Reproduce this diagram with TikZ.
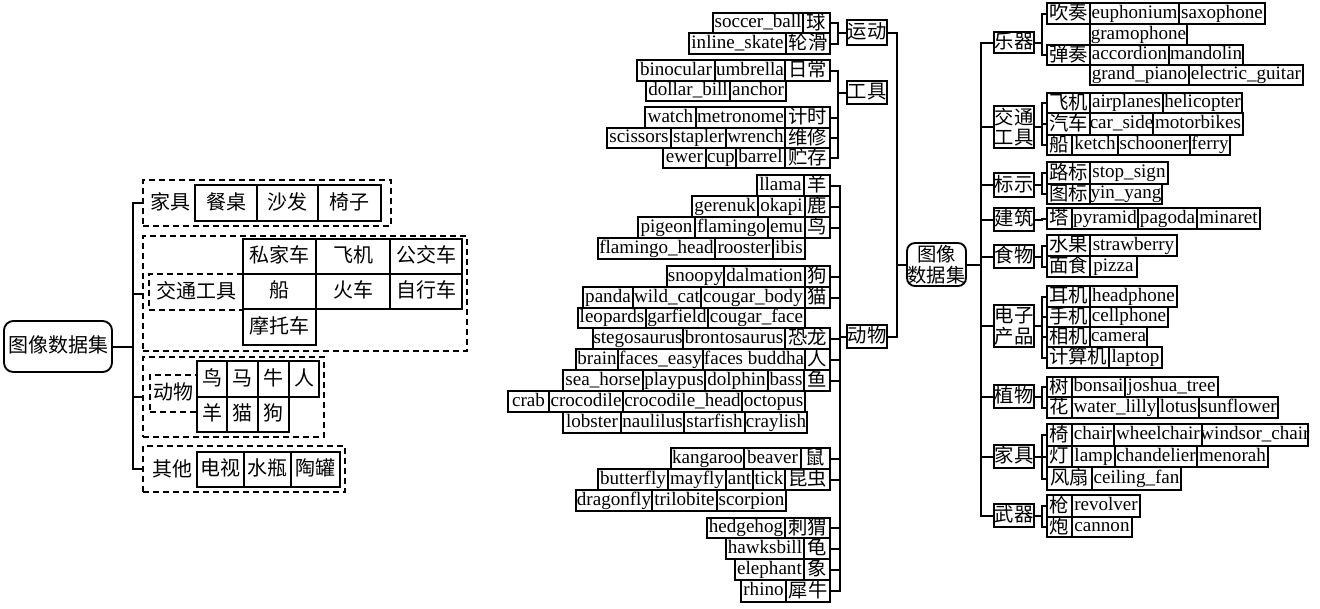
\documentclass[tikz,border=0pt]{standalone}
\usepackage{fontspec}
\setmainfont{Liberation Serif}
\newfontfamily\cjk{Noto Sans CJK SC}
\tikzset{
  bxbase/.style={draw, line width=1.4pt, inner sep=0pt, outer sep=0pt},
  lbox/.style={bxbase, font=\fontsize{14.3}{16}\selectfont, text height=10pt, text depth=3pt},
  cbox/.style={bxbase, font=\cjk\fontsize{14.5}{16}\selectfont, text height=11pt, text depth=2pt},
  lcbox/.style={bxbase, font=\cjk\fontsize{15}{16}\selectfont, text height=11.5pt, text depth=2pt},
  mbox/.style={bxbase, font=\cjk\fontsize{14.5}{15.5}\selectfont, align=center},
  rbox/.style={lcbox, rounded corners=7pt},
  grp/.style={draw, line width=1.4pt, dash pattern=on 4.5pt off 3pt, inner sep=0pt, outer sep=0pt},
  grplab/.style={grp, font=\cjk\fontsize{15}{16}\selectfont, text height=11.5pt, text depth=2pt},
  plainlab/.style={inner sep=0pt, font=\cjk\fontsize{15}{16}\selectfont},
  conn/.style={line width=1.5pt}
}
\newcommand\bx[7][lbox]{\node[#1,minimum width={(#4-#3)*0.75pt},minimum height={(#6-#5)*0.75pt}] (#2) at ({(#3+#4)/2},{(#5+#6)/2}) {\makebox[0pt]{#7}};}
\newcommand\mb[6]{\node[mbox,minimum width={(#3-#2)*0.75pt},minimum height={(#5-#4)*0.75pt}] (#1) at ({(#2+#3)/2},{(#4+#5)/2}) {#6};}
\begin{document}
\begin{tikzpicture}[x=0.75pt,y=-0.75pt]
\useasboundingbox (0,0) rectangle (1320,608);
% ---------------- left diagram ----------------
\bx[rbox]{L0}{4}{112}{321}{372}{图像数据集}
\bx[grp]{g1}{143}{391}{180}{226}{}
\bx[grp]{g2}{143}{467}{236}{351}{}
\bx[grp]{g3}{143}{324}{357}{437}{}
\bx[grp]{g4}{143}{345}{446}{492}{}
\node[plainlab] (lt1) at (170,202) {家具};
\node[plainlab] (lt4) at (172,469) {其他};
\bx[grplab]{l2}{149}{243}{274}{310}{交通工具}
\bx[grplab]{l3}{150}{197}{375}{412}{动物}
\bx[lcbox]{c11}{195}{257}{185}{221}{餐桌}
\bx[lcbox]{c12}{257}{318}{185}{221}{沙发}
\bx[lcbox]{c13}{318}{381}{185}{221}{椅子}
\bx[lcbox]{c21}{243}{316}{239}{274}{私家车}
\bx[lcbox]{c22}{316}{390}{239}{274}{飞机}
\bx[lcbox]{c23}{390}{462}{239}{274}{公交车}
\bx[lcbox]{c24}{243}{316}{274}{309}{船}
\bx[lcbox]{c25}{316}{390}{274}{309}{火车}
\bx[lcbox]{c26}{390}{462}{274}{309}{自行车}
\bx[lcbox]{c27}{243}{316}{309}{345}{摩托车}
\bx[lcbox]{c31}{197}{227}{361}{397}{鸟}
\bx[lcbox]{c32}{227}{258}{361}{397}{马}
\bx[lcbox]{c33}{258}{289}{361}{397}{牛}
\bx[lcbox]{c34}{289}{319}{361}{397}{人}
\bx[lcbox]{c35}{197}{227}{397}{432}{羊}
\bx[lcbox]{c36}{227}{258}{397}{432}{猫}
\bx[lcbox]{c37}{258}{289}{397}{432}{狗}
\bx[lcbox]{c41}{197}{244}{452}{487}{电视}
\bx[lcbox]{c42}{244}{291}{452}{487}{水瓶}
\bx[lcbox]{c43}{291}{340}{452}{487}{陶罐}
\foreach \g in {g1,g2,g3,g4} \draw[conn] (L0.east) -- ++(21,0) |- (\g.west);
% ---------------- middle ----------------
\bx[cbox]{yd}{847}{887}{20}{45}{运动}
\bx[cbox]{gj}{847}{887}{81}{104}{工具}
\bx[cbox]{dw}{847}{887}{325}{348}{动物}
\node[mbox,rounded corners=6pt,minimum width={59*0.75pt},minimum height={43*0.75pt}] (R) at (936.5,264.5) {图像\\数据集};
\bx[cbox]{s1}{803}{830}{13}{33}{球}
\bx{s1a}{713}{803}{13}{33}{soccer\_ball}
\bx[cbox]{s2}{786}{830}{33}{54}{轮滑}
\bx{s2a}{689}{786}{33}{54}{inline\_skate}
\bx[cbox]{t1}{785}{830}{60}{81}{日常}
\bx{t1a}{715}{785}{60}{81}{umbrella}
\bx{t1b}{637}{715}{60}{81}{binocular}
\bx{t2a}{730}{786}{81}{101}{anchor}
\bx{t2b}{646}{730}{81}{101}{dollar\_bill}
\bx[cbox]{t3}{785}{830}{107}{128}{计时}
\bx{t3a}{696}{785}{107}{128}{metronome}
\bx{t3b}{645}{696}{107}{128}{watch}
\bx[cbox]{t4}{785}{830}{128}{148}{维修}
\bx{t4a}{726}{785}{128}{148}{wrench}
\bx{t4b}{671}{726}{128}{148}{stapler}
\bx{t4c}{607}{671}{128}{148}{scissors}
\bx[cbox]{t5}{785}{830}{148}{168}{贮存}
\bx{t5a}{736}{785}{148}{168}{barrel}
\bx{t5b}{706}{736}{148}{168}{cup}
\bx{t5c}{663}{706}{148}{168}{ewer}
\bx[cbox]{a1}{804}{830}{175}{196}{羊}
\bx{a1a}{757}{804}{175}{196}{llama}
\bx[cbox]{a2}{805}{830}{196}{217}{鹿}
\bx{a2a}{758}{805}{196}{217}{okapi}
\bx{a2b}{692}{758}{196}{217}{gerenuk}
\bx[cbox]{a3}{805}{830}{217}{238}{鸟}
\bx{a3a}{768}{805}{217}{238}{emu}
\bx{a3b}{695}{768}{217}{238}{flamingo}
\bx{a3c}{638}{695}{217}{238}{pigeon}
\bx{a4a}{773}{805}{238}{259}{ibis}
\bx{a4b}{715}{773}{238}{259}{rooster}
\bx{a4c}{598}{715}{238}{259}{flamingo\_head}
\bx[cbox]{a5}{805}{830}{266}{287}{狗}
\bx{a5a}{724}{805}{266}{287}{dalmation}
\bx{a5b}{667}{724}{266}{287}{snoopy}
\bx[cbox]{a6}{805}{830}{287}{308}{猫}
\bx{a6a}{701}{805}{287}{308}{cougar\_body}
\bx{a6b}{633}{701}{287}{308}{wild\_cat}
\bx{a6c}{583}{633}{287}{308}{panda}
\bx{a7a}{708}{805}{308}{328}{cougar\_face}
\bx{a7b}{646}{708}{308}{328}{garfield}
\bx{a7c}{578}{646}{308}{328}{leopards}
\bx[cbox]{a8}{785}{830}{328}{349}{恐龙}
\bx{a8a}{683}{785}{328}{349}{brontosaurus}
\bx{a8b}{593}{683}{328}{349}{stegosaurus}
\bx[cbox]{a9}{805}{830}{349}{370}{人}
\bx{a9a}{703}{805}{349}{370}{faces buddha}
\bx{a9b}{618}{703}{349}{370}{faces\_easy}
\bx{a9c}{576}{618}{349}{370}{brain}
\bx[cbox]{a10}{804}{830}{370}{391}{鱼}
\bx{a10a}{768}{804}{370}{391}{bass}
\bx{a10b}{705}{768}{370}{391}{dolphin}
\bx{a10c}{643}{705}{370}{391}{playpus}
\bx{a10d}{563}{643}{370}{391}{sea\_horse}
\bx{a11a}{742}{805}{391}{412}{octopus}
\bx{a11b}{623}{742}{391}{412}{crocodile\_head}
\bx{a11c}{549}{623}{391}{412}{crocodile}
\bx{a11d}{508}{549}{391}{412}{crab}
\bx{a12a}{745}{807}{412}{433}{craylish}
\bx{a12b}{684}{745}{412}{433}{starfish}
\bx{a12c}{621}{684}{412}{433}{naulilus}
\bx{a12d}{563}{621}{412}{433}{lobster}
\bx[cbox]{a13}{801}{830}{448}{469}{鼠}
\bx{a13a}{744}{801}{448}{469}{beaver}
\bx{a13b}{671}{744}{448}{469}{kangaroo}
\bx[cbox]{a14}{785}{830}{469}{490}{昆虫}
\bx{a14a}{753}{785}{469}{490}{tick}
\bx{a14b}{726}{753}{469}{490}{ant}
\bx{a14c}{668}{726}{469}{490}{mayfly}
\bx{a14d}{598}{668}{469}{490}{butterfly}
\bx{a15a}{717}{786}{490}{511}{scorpion}
\bx{a15b}{652}{717}{490}{511}{trilobite}
\bx{a15c}{576}{652}{490}{511}{dragonfly}
\bx[cbox]{a16}{785}{830}{518}{538}{刺猬}
\bx{a16a}{707}{785}{518}{538}{hedgehog}
\bx[cbox]{a17}{804}{830}{538}{559}{龟}
\bx{a17a}{726}{804}{538}{559}{hawksbill}
\bx[cbox]{a18}{804}{830}{559}{580}{象}
\bx{a18a}{735}{804}{559}{580}{elephant}
\bx[cbox]{a19}{786}{830}{580}{602}{犀牛}
\bx{a19a}{741}{786}{580}{602}{rhino}
\foreach \n in {s1,s2} \draw[conn] (\n.east) -- ++(8,0) |- (yd.west);
\foreach \n in {t1,t3,t4,t5} \draw[conn] (\n.east) -- ++(8,0) |- (gj.west);
\foreach \n in {a1,a2,a3,a5,a6,a8,a9,a10,a13,a14,a16,a17,a18,a19} \draw[conn] (\n.east) -- ++(10,0) |- (dw.west);
\foreach \n in {yd,dw} \draw[conn] (\n.east) -- ++(10,0) |- (R.west);
% ---------------- right ----------------
\bx[cbox]{k1}{994}{1034}{32}{53}{乐器}
\mb{k2}{994}{1034}{106}{148}{交通\\工具}
\bx[cbox]{k3}{994}{1034}{173}{197}{标示}
\bx[cbox]{k4}{994}{1034}{208}{231}{建筑}
\bx[cbox]{k5}{994}{1034}{245}{268}{食物}
\mb{k6}{994}{1034}{305}{347}{电子\\产品}
\bx[cbox]{k7}{994}{1034}{385}{408}{植物}
\bx[cbox]{k8}{994}{1034}{445}{468}{家具}
\bx[cbox]{k9}{994}{1034}{504}{527}{武器}
\bx[cbox]{r1}{1047}{1090}{3}{24}{吹奏}
\bx{r1a}{1090}{1179}{3}{24}{euphonium}
\bx{r1b}{1179}{1265}{3}{24}{saxophone}
\bx{r1c}{1090}{1187}{24}{45}{gramophone}
\bx[cbox]{r2}{1047}{1090}{45}{65}{弹奏}
\bx{r2a}{1090}{1169}{45}{65}{accordion}
\bx{r2b}{1169}{1243}{45}{65}{mandolin}
\bx{r2c}{1090}{1189}{65}{85}{grand\_piano}
\bx{r2d}{1189}{1303}{65}{85}{electric\_guitar}
\bx[cbox]{r3}{1047}{1090}{93}{113}{飞机}
\bx{r3a}{1090}{1163}{93}{113}{airplanes}
\bx{r3b}{1163}{1242}{93}{113}{helicopter}
\bx[cbox]{r4}{1047}{1090}{113}{135}{汽车}
\bx{r4a}{1090}{1153}{113}{135}{car\_side}
\bx{r4b}{1153}{1243}{113}{135}{motorbikes}
\bx[cbox]{r5}{1047}{1072}{135}{155}{船}
\bx{r5a}{1072}{1118}{135}{155}{ketch}
\bx{r5b}{1118}{1190}{135}{155}{schooner}
\bx{r5c}{1190}{1230}{135}{155}{ferry}
\bx[cbox]{r6}{1047}{1090}{162}{184}{路标}
\bx{r6a}{1090}{1168}{162}{184}{stop\_sign}
\bx[cbox]{r7}{1047}{1090}{184}{204}{图标}
\bx{r7a}{1090}{1162}{184}{204}{yin\_yang}
\bx[cbox]{r8}{1047}{1072}{208}{229}{塔}
\bx{r8a}{1072}{1138}{208}{229}{pyramid}
\bx{r8b}{1138}{1197}{208}{229}{pagoda}
\bx{r8c}{1197}{1260}{208}{229}{minaret}
\bx[cbox]{r9}{1047}{1090}{235}{256}{水果}
\bx{r9a}{1090}{1177}{235}{256}{strawberry}
\bx[cbox]{r10}{1047}{1090}{256}{277}{面食}
\bx{r10a}{1090}{1137}{256}{277}{pizza}
\bx[cbox]{r11}{1047}{1090}{286}{307}{耳机}
\bx{r11a}{1090}{1177}{286}{307}{headphone}
\bx[cbox]{r12}{1047}{1090}{307}{327}{手机}
\bx{r12a}{1090}{1168}{307}{327}{cellphone}
\bx[cbox]{r13}{1047}{1090}{327}{347}{相机}
\bx{r13a}{1090}{1147}{327}{347}{camera}
\bx[cbox]{r14}{1047}{1109}{347}{368}{计算机}
\bx{r14a}{1109}{1162}{347}{368}{laptop}
\bx[cbox]{r15}{1047}{1072}{377}{397}{树}
\bx{r15a}{1072}{1125}{377}{397}{bonsai}
\bx{r15b}{1125}{1218}{377}{397}{joshua\_tree}
\bx[cbox]{r16}{1047}{1072}{397}{418}{花}
\bx{r16a}{1072}{1158}{397}{418}{water\_lilly}
\bx{r16b}{1158}{1199}{397}{418}{lotus}
\bx{r16c}{1199}{1278}{397}{418}{sunflower}
\bx[cbox]{r17}{1047}{1072}{424}{446}{椅}
\bx{r17a}{1072}{1114}{424}{446}{chair}
\bx{r17b}{1114}{1202}{424}{446}{wheelchair}
\bx{r17c}{1202}{1308}{424}{446}{windsor\_chair}
\bx[cbox]{r18}{1047}{1072}{446}{467}{灯}
\bx{r18a}{1072}{1115}{446}{467}{lamp}
\bx{r18b}{1115}{1197}{446}{467}{chandelier}
\bx{r18c}{1197}{1268}{446}{467}{menorah}
\bx[cbox]{r19}{1047}{1092}{467}{490}{风扇}
\bx{r19a}{1092}{1181}{467}{490}{ceiling\_fan}
\bx[cbox]{r20}{1047}{1072}{495}{517}{枪}
\bx{r20a}{1072}{1140}{495}{517}{revolver}
\bx[cbox]{r21}{1047}{1072}{517}{537}{炮}
\bx{r21a}{1072}{1132}{517}{537}{cannon}
\foreach \k in {k1,k2,k3,k4,k5,k6,k7,k8,k9} \draw[conn] (R.east) -- ++(15,0) |- (\k.west);
\foreach \k/\r in {k1/r1,k1/r2,k2/r3,k2/r4,k2/r5,k3/r6,k3/r7,k4/r8,k5/r9,k5/r10,k6/r11,k6/r12,k6/r13,k6/r14,k7/r15,k7/r16,k8/r17,k8/r18,k8/r19,k9/r20,k9/r21}
  \draw[conn] (\k.east) -- ++(8,0) |- (\r.west);
\end{tikzpicture}
\end{document}
